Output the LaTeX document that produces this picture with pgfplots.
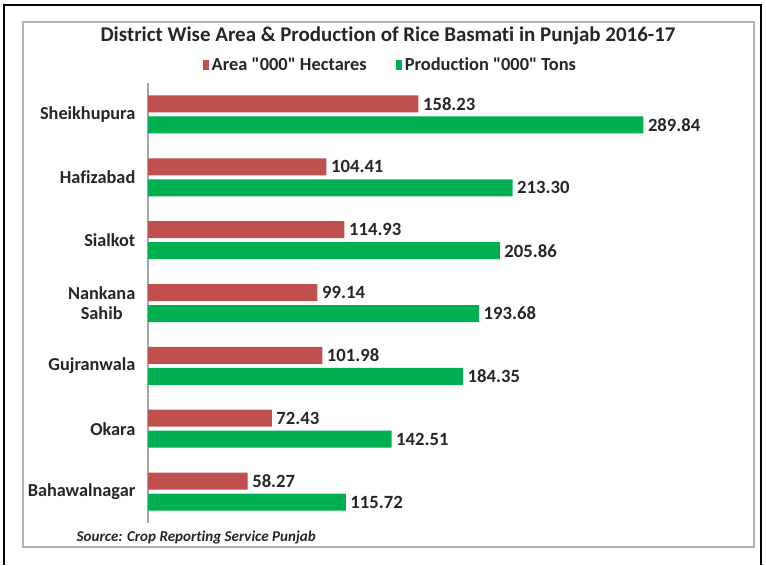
\documentclass[border=0pt]{standalone}
\usepackage{pgfplots}
\pgfplotsset{compat=1.18}
\usepackage{fontspec}
\setmainfont{Carlito}[Ligatures={TeXOff,CommonOff}]
\definecolor{areared}{HTML}{C0504D}
\definecolor{prodgreen}{HTML}{00B050}
\newcommand{\q}{\char34\relax}
\begin{document}
\begin{tikzpicture}[x=0.75pt,y=-0.75pt]
  % canvas and frames (pixel units, y downward)
  \useasboundingbox (0,0) rectangle (766,565);
  \draw[line width=1.5pt] (4,565) -- (4,5) -- (761,5) -- (761,565);
  \draw[black!30, line width=0.9pt] (23,22) rectangle (754,547);
  \coordinate (sw) at (148,523);

  \node[font=\fontsize{15.7}{18}\selectfont\bfseries, text=black!85] at (388,36)
    {District Wise Area \& Production of Rice Basmati in Punjab 2016-17};
  \node[font=\fontsize{11.3}{13}\selectfont\bfseries\itshape, text=black!85, anchor=west] at (72,537)
    {Source: Crop Reporting Service Punjab};

  \begin{axis}[
      at={(sw)}, anchor=south west,
      scale only axis,
      width=435.75pt, height=330pt,
      xbar, bar width=12.75pt,
      xmin=0, xmax=340,
      ymin=-0.5, ymax=6.5,
      axis x line=none,
      axis y line*=left,
      y axis line style={draw=black!35, line width=0.8pt},
      ytick={0,...,6},
      yticklabels={Bahawalnagar, Okara, Gujranwala, {Nankana\\Sahib}, Sialkot, Hafizabad, Sheikhupura},
      major tick length=0pt,
      yticklabel style={font=\fontsize{13.7}{15}\selectfont\bfseries, text=black!85, align=center, xshift=-6pt},
      clip=false,
      nodes near coords,
      nodes near coords style={font=\fontsize{14}{16}\selectfont\bfseries, text=black!85, anchor=west,
        /pgf/number format/.cd, fixed, fixed zerofill, precision=2, 1000 sep={}, assume math mode=true},
      legend columns=2,
      legend style={draw=none, fill=none, at={(0.418,1.041)}, anchor=center,
        font=\fontsize{13.8}{15}\selectfont\bfseries, text=black!85,
        /tikz/every even column/.append style={column sep=20pt},
        nodes={inner sep=2pt}},
    ]
    % Area "000" Hectares
    \addplot[fill=areared, draw=none, bar shift=7.875pt,
      legend image code/.code={\fill[areared] (0pt,-3.4pt) rectangle (4.5pt,3.4pt);}]
      coordinates {(58.27,0) (72.43,1) (101.98,2) (99.14,3) (114.93,4) (104.41,5) (158.23,6)};
    % Production "000" Tons
    \addplot[fill=prodgreen, draw=none, bar shift=-7.875pt,
      legend image code/.code={\fill[prodgreen] (0pt,-3.4pt) rectangle (4.5pt,3.4pt);}]
      coordinates {(115.72,0) (142.51,1) (184.35,2) (193.68,3) (205.86,4) (213.30,5) (289.84,6)};
    \legend{Area \q000\q{} Hectares, Production \q000\q{} Tons}
  \end{axis}
\end{tikzpicture}
\end{document}
